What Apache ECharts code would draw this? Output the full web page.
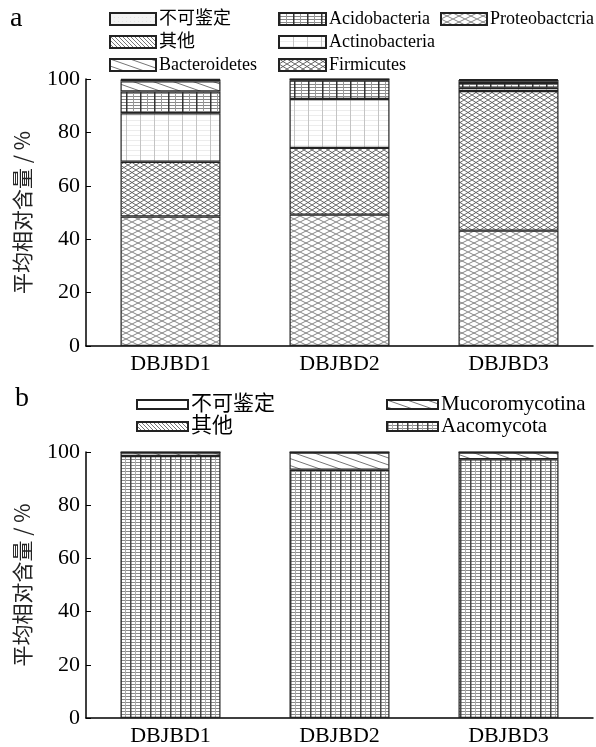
<!DOCTYPE html>
<html>
<head>
<meta charset="utf-8">
<script src="https://cdn.jsdelivr.net/npm/echarts@6/dist/echarts.min.js"></script>
<style>
html, body { margin: 0; background: #fff; }
#main { width: 596px; height: 747px; }
</style>
</head>
<body>
<div id="main"></div>
<script>
// 样品
var categories = ['DBJBD1', 'DBJBD2', 'DBJBD3'];

// a: 细菌门水平平均相对含量 (%)，自下而上
var proteobacteria = [48.5, 49.2, 43.2];
var firmicutes = [20.5, 25.0, 52.3];
var actinobacteria = [18.2, 18.3, 1.2];
var acidobacteria = [8.1, 7.0, 1.8];
var bacteroidetes = [3.8, 0.3, 0.5];
var otherA = [0.6, 0.1, 0.6];
var unknownA = [0.3, 0.1, 0.4];

// b: 真菌门水平平均相对含量 (%)
var aacomycota = [98.5, 93.3, 97.3];
var mucoromycotina = [1.3, 6.5, 2.5];
var otherB = [0.1, 0.1, 0.1];
var unknownB = [0.1, 0.1, 0.1];

var yTicks = [0, 20, 40, 60, 80, 100];

var serif = '"Liberation Serif", "DejaVu Serif", serif';
var cjk = '"Liberation Serif", "Noto Sans CJK SC", serif';

// 填充花纹
function pattern (w, h, bg, draw) {
    var c = document.createElement('canvas');
    c.width = w;
    c.height = h;
    var ctx = c.getContext('2d');
    ctx.fillStyle = bg;
    ctx.fillRect(0, 0, w, h);
    draw(ctx, w, h);
    return {image: c, repeat: 'repeat'};
}
function ln (ctx, x1, y1, x2, y2, color, width) {
    ctx.strokeStyle = color;
    ctx.lineWidth = width;
    ctx.beginPath();
    ctx.moveTo(x1, y1);
    ctx.lineTo(x2, y2);
    ctx.stroke();
}

var pProteo = pattern(12, 6, '#fff', function (ctx, w, h) {
    ln(ctx, 0, 0, w, h, '#777', 0.9);
    ln(ctx, 0, h, w, 0, '#777', 0.9);
});
var pFirmi = pattern(8, 5, '#fff', function (ctx, w, h) {
    ln(ctx, 0, 0, w, h, '#555', 0.9);
    ln(ctx, 0, h, w, 0, '#555', 0.9);
});
var pActino = pattern(14, 5, '#fff', function (ctx, w, h) {
    ln(ctx, 0, 0.5, w, 0.5, '#ececec', 1);
    ln(ctx, 0.5, 0, 0.5, h, '#c4c4c4', 1);
});
var pAcido = pattern(14, 3, '#fff', function (ctx, w, h) {
    ln(ctx, 0, 0.5, w, 0.5, '#8a8a8a', 1);
    ln(ctx, 0.75, 0, 0.75, h, '#333', 1.5);
    ln(ctx, 7.5, 0, 7.5, h, '#999', 1);
});
var pBactero = pattern(20, 7, '#fff', function (ctx, w, h) {
    ln(ctx, -w, 0, w, 2 * h, '#666', 0.9);
    ln(ctx, 0, 0, w, h, '#666', 0.9);
    ln(ctx, 0, -h, 2 * w, h, '#666', 0.9);
});
var pOther = pattern(4, 4, '#fff', function (ctx, w, h) {
    ln(ctx, -1, -1, w + 1, h + 1, '#666', 0.9);
    ln(ctx, -1, h - 1, 1, h + 1, '#666', 0.9);
    ln(ctx, w - 1, -1, w + 1, 1, '#666', 0.9);
});
var pUnknownA = pattern(4, 4, '#f3f3f3', function (ctx) {
    ctx.fillStyle = '#e4e4e4';
    ctx.fillRect(0, 0, 1, 1);
});
var pAaco = pattern(10, 3, '#fff', function (ctx, w, h) {
    ln(ctx, 0, 0.5, w, 0.5, '#8a8a8a', 1);
    ln(ctx, 0.75, 0, 0.75, h, '#444', 1.5);
    ln(ctx, 5.5, 0, 5.5, h, '#aaa', 1);
});

function bar (name, data, color, grid) {
    return {
        name: name,
        type: 'bar',
        stack: grid === 0 ? 'a' : 'b',
        xAxisIndex: grid,
        yAxisIndex: grid,
        barWidth: 100,
        data: data,
        itemStyle: {color: color, borderColor: '#222', borderWidth: 1.2},
        emphasis: {disabled: true}
    };
}

function xAxis (grid) {
    return {
        type: 'category',
        gridIndex: grid,
        data: categories,
        axisLine: {lineStyle: {color: '#000', width: 1.5}},
        axisTick: {alignWithLabel: true, inside: true, length: 6, lineStyle: {color: '#000'}},
        axisLabel: {color: '#000', fontSize: 22, fontFamily: serif, margin: 7}
    };
}
function yAxis (grid) {
    return {
        type: 'value',
        gridIndex: grid,
        min: yTicks[0],
        max: yTicks[yTicks.length - 1],
        interval: yTicks[1] - yTicks[0],
        name: '平均相对含量 / %',
        nameLocation: 'middle',
        nameGap: 53,
        nameTextStyle: {color: '#222', fontSize: 21, fontFamily: '"Noto Sans CJK SC", sans-serif'},
        axisLine: {show: true, lineStyle: {color: '#000', width: 1.5}},
        axisTick: {show: true, inside: true, length: 5, lineStyle: {color: '#000'}},
        axisLabel: {color: '#000', fontSize: 22, fontFamily: serif, margin: 6},
        splitLine: {show: false}
    };
}
function legend (names, left, top, w, h, gap, size, lh) {
    return {
        orient: 'vertical',
        left: left,
        top: top,
        padding: 0,
        itemWidth: w,
        itemHeight: h,
        itemGap: gap,
        icon: 'rect',
        selectedMode: false,
        data: names,
        textStyle: {color: '#000', fontSize: size, lineHeight: lh, fontFamily: cjk, padding: [0, 0, 0, -2]}
    };
}

var option = {
    animation: false,
    backgroundColor: '#fff',
    grid: [
        {left: 86, right: 3, top: 79, height: 267},
        {left: 86, right: 3, top: 452, height: 269}
    ],
    xAxis: [xAxis(0), xAxis(1)],
    yAxis: [yAxis(0), yAxis(1)],
    legend: [
        legend(['不可鉴定', '其他', 'Bacteroidetes'], 109, 10, 46, 12, 5, 18, 14),
        legend(['Acidobacteria', 'Actinobacteria', 'Firmicutes'], 278, 10, 47, 12, 5, 18, 14),
        legend(['Proteobactcria'], 440, 10, 46, 12, 5, 18, 14),
        legend(['不可鉴定 ', '其他 '], 136, 394, 51, 9, 1, 21, 18),
        legend(['Mucoromycotina', 'Aacomycota'], 386, 394, 51, 9, 1, 21, 18)
    ],
    graphic: [
        {type: 'text', left: 10, top: 5, style: {text: 'a', fontSize: 28, fontFamily: serif, fill: '#000'}},
        {type: 'text', left: 15, top: 385, style: {text: 'b', fontSize: 28, fontFamily: serif, fill: '#000'}}
    ],
    series: [
        bar('Proteobactcria', proteobacteria, pProteo, 0),
        bar('Firmicutes', firmicutes, pFirmi, 0),
        bar('Actinobacteria', actinobacteria, pActino, 0),
        bar('Acidobacteria', acidobacteria, pAcido, 0),
        bar('Bacteroidetes', bacteroidetes, pBactero, 0),
        bar('其他', otherA, pOther, 0),
        bar('不可鉴定', unknownA, pUnknownA, 0),
        bar('Aacomycota', aacomycota, pAaco, 1),
        bar('Mucoromycotina', mucoromycotina, pBactero, 1),
        bar('其他 ', otherB, pOther, 1),
        bar('不可鉴定 ', unknownB, '#fff', 1)
    ]
};

var myChart = echarts.init(document.getElementById('main'));
myChart.setOption(option);
</script>
</body>
</html>
